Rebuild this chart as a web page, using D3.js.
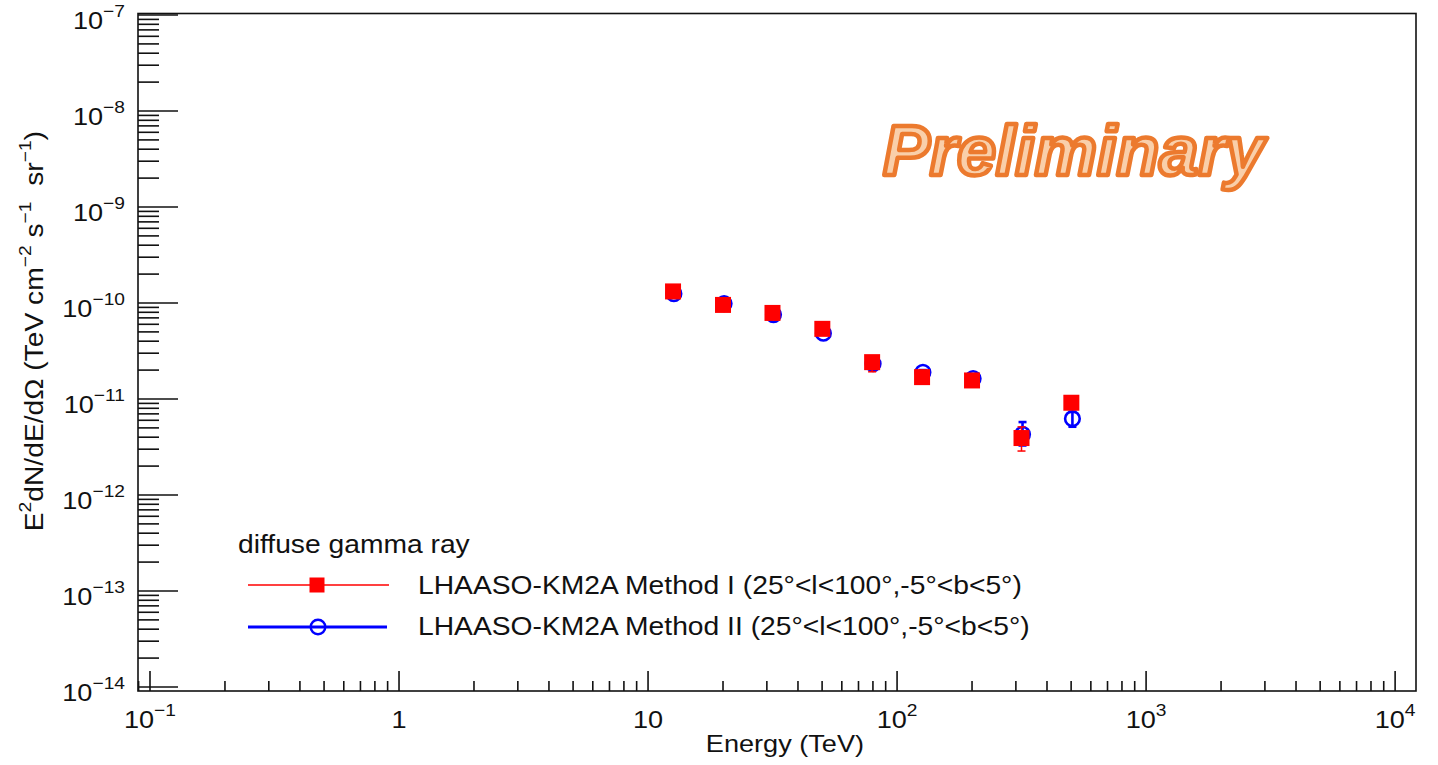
<!DOCTYPE html>
<html>
<head>
<meta charset="utf-8">
<script src="https://cdn.jsdelivr.net/npm/d3@7"></script>
<style>
  html, body { margin: 0; padding: 0; background: #fff; }
  svg { display: block; }
  text { font-family: "Liberation Sans", Arial, Helvetica, sans-serif; fill: #111; }
</style>
</head>
<body>
<svg id="chart" width="1438" height="765"></svg>
<script>
// ---------------- data ----------------
const energyI  = [12.6, 20.0, 31.6, 50.1, 79.4, 126, 200, 316, 501];          // TeV
const fluxI    = [1.32e-10, 9.55e-11, 7.88e-11, 5.38e-11, 2.42e-11, 1.69e-11, 1.56e-11, 3.92e-12, 9.14e-12];
const errLowI  = [0.06e-10, 0.05e-11, 0.04e-11, 0.03e-11, 0.50e-11, 0.10e-11, 0.10e-11, 1.05e-12, 0.70e-12];
const errHighI = [0.06e-10, 0.05e-11, 0.04e-11, 0.03e-11, 0.40e-11, 0.10e-11, 0.10e-11, 1.20e-12, 0.80e-12];

const energyII  = [12.7, 20.2, 31.9, 50.6, 80.1, 127, 202, 319, 506];
const fluxII    = [1.25e-10, 9.86e-11, 7.58e-11, 4.84e-11, 2.33e-11, 1.90e-11, 1.63e-11, 4.28e-12, 6.24e-12];
const errLowII  = [0.05e-10, 0.04e-11, 0.03e-11, 0.03e-11, 0.10e-11, 0.10e-11, 0.10e-11, 1.00e-12, 1.10e-12];
const errHighII = [0.05e-10, 0.04e-11, 0.03e-11, 0.03e-11, 0.10e-11, 0.10e-11, 0.10e-11, 1.47e-12, 1.10e-12];

const xDomain = [0.0895, 12130];
const yDomain = [9.08e-15, 1.037e-7];
const xTickExp = [-1, 0, 1, 2, 3, 4];
const yTickExp = [-14, -13, -12, -11, -10, -9, -8, -7];

const legendHeader = "diffuse gamma ray";
const legendLabels = ["LHAASO-KM2A Method I (25°<l<100°,-5°<b<5°)",
                      "LHAASO-KM2A Method II (25°<l<100°,-5°<b<5°)"];
const xTitle = "Energy (TeV)";
const watermark = "Preliminary";

// ---------------- layout ----------------
const svg = d3.select("#chart");
const L = 138, R = 1416, T = 13.5, B = 691;
const SX = 1.13; // horizontal text stretch of the original

const x = d3.scaleLog().domain(xDomain).range([L, R]);
const y = d3.scaleLog().domain(yDomain).range([B, T]);

const MINUS = "\u2212";

function supText(parent, px, py, anchor, parts, size, supSize, supShift) {
  const g = parent.append("g").attr("transform", `translate(${px},${py}) scale(${SX},1)`);
  const t = g.append("text").attr("text-anchor", anchor).attr("font-size", size);
  let cur = 0;
  parts.forEach(p => {
    const target = p.sup ? -supShift : 0;
    t.append("tspan").attr("dy", target - cur)
      .attr("font-size", p.sup ? supSize : size)
      .text(p.t);
    cur = target;
  });
  return g;
}

// ---------------- watermark ----------------
svg.append("text")
  .attr("x", 883).attr("y", 175)
  .attr("font-size", 70).attr("font-weight", "bold").attr("font-style", "italic")
  .attr("stroke", "#ec7a2e").attr("stroke-width", 4.5)
  .attr("stroke-linejoin", "round")
  .style("fill", "#f9cfaa")
  .text(watermark);

// ---------------- frame ----------------
svg.append("rect").attr("x", L).attr("y", T).attr("width", R - L).attr("height", B - T)
  .attr("fill", "none").attr("stroke", "#111").attr("stroke-width", 1.6);

// ---------------- ticks ----------------
const ax = svg.append("g").attr("stroke", "#111").attr("stroke-width", 1.6);
for (let e = -2; e <= 4; e++) {
  for (let m = 1; m <= 9; m++) {
    const v = m * Math.pow(10, e);
    if (v < xDomain[0] || v > xDomain[1]) continue;
    const len = m === 1 ? 20 : 10;
    ax.append("line").attr("x1", x(v)).attr("x2", x(v)).attr("y1", B).attr("y2", B - len);
  }
}
for (let e = -15; e <= -7; e++) {
  for (let m = 1; m <= 9; m++) {
    const v = m * Math.pow(10, e);
    if (v < yDomain[0] || v > yDomain[1]) continue;
    const len = m === 1 ? 40 : 21;
    ax.append("line").attr("x1", L).attr("x2", L + len).attr("y1", y(v)).attr("y2", y(v));
  }
}

// ---------------- tick labels ----------------
xTickExp.forEach(e => {
  const v = Math.pow(10, e);
  let parts;
  if (e === 0) parts = [{t: "1"}];
  else if (e === 1) parts = [{t: "10"}];
  else parts = [{t: "10"}, {t: (e < 0 ? MINUS : "") + Math.abs(e), sup: true}];
  supText(svg, x(v), 728, "middle", parts, 24, 17, 12);
});
yTickExp.forEach(e => {
  const v = Math.pow(10, e);
  supText(svg, 125, y(v) + 14, "end",
    [{t: "10"}, {t: MINUS + Math.abs(e), sup: true}], 24, 17, 12);
});

// ---------------- axis titles ----------------
supText(svg, 864, 752, "end", [{t: xTitle}], 24, 17, 12);

const yt = svg.append("g").attr("transform", `translate(43,131) rotate(-90) scale(${SX},1)`);
const ytt = yt.append("text").attr("text-anchor", "end").attr("font-size", 25);
(function () {
  const parts = [{t: "E"}, {t: "2", sup: true}, {t: "dN/dE/dΩ (TeV cm"}, {t: MINUS + "2", sup: true},
    {t: " s"}, {t: MINUS + "1", sup: true}, {t: "  sr"}, {t: MINUS + "1", sup: true}, {t: ")"}];
  let cur = 0;
  parts.forEach(p => {
    const target = p.sup ? -12 : 0;
    ytt.append("tspan").attr("dy", target - cur).attr("font-size", p.sup ? 17 : 25)
      .attr("xml:space", "preserve").text(p.t);
    cur = target;
  });
})();

// ---------------- data points ----------------
function drawSeries(en, fl, lo, hi, color, ew, kind) {
  const g = svg.append("g");
  en.forEach((e, i) => {
    const cx = x(e);
    const yv = y(fl[i]), yl = y(fl[i] - lo[i]), yh = y(fl[i] + hi[i]);
    g.append("line").attr("x1", cx).attr("x2", cx).attr("y1", yl).attr("y2", yh)
      .attr("stroke", color).attr("stroke-width", ew);
    [yl, yh].forEach(yy => g.append("line").attr("x1", cx - 4).attr("x2", cx + 4)
      .attr("y1", yy).attr("y2", yy).attr("stroke", color).attr("stroke-width", ew));
    if (kind === "square") {
      g.append("rect").attr("x", cx - 8).attr("y", yv - 8).attr("width", 16).attr("height", 16)
        .attr("fill", color);
    } else {
      g.append("circle").attr("cx", cx).attr("cy", yv).attr("r", 7.3)
        .attr("fill", "none").attr("stroke", color).attr("stroke-width", 2.6);
    }
  });
}
drawSeries(energyII, fluxII, errLowII, errHighII, "#0000ff", 2.6, "circle");
drawSeries(energyI, fluxI, errLowI, errHighI, "#ff0000", 1.5, "square");

// ---------------- legend ----------------
supText(svg, 238, 553, "start", [{t: legendHeader}], 25, 17, 12);
const lg = svg.append("g");
lg.append("line").attr("x1", 248).attr("x2", 389).attr("y1", 585).attr("y2", 585)
  .attr("stroke", "#ff0000").attr("stroke-width", 1.5);
lg.append("rect").attr("x", 317 - 7.5).attr("y", 585 - 7.5).attr("width", 15).attr("height", 15)
  .attr("fill", "#ff0000");
lg.append("line").attr("x1", 248).attr("x2", 387).attr("y1", 627).attr("y2", 627)
  .attr("stroke", "#0000ff").attr("stroke-width", 3);
lg.append("circle").attr("cx", 318).attr("cy", 627).attr("r", 7.3)
  .attr("fill", "#fff").attr("stroke", "#0000ff").attr("stroke-width", 2.4);
lg.append("line").attr("x1", 311).attr("x2", 325).attr("y1", 627).attr("y2", 627)
  .attr("stroke", "#0000ff").attr("stroke-width", 3);
supText(svg, 418, 594, "start", [{t: legendLabels[0]}], 25, 17, 12);
supText(svg, 418, 635, "start", [{t: legendLabels[1]}], 25, 17, 12);
</script>
</body>
</html>
